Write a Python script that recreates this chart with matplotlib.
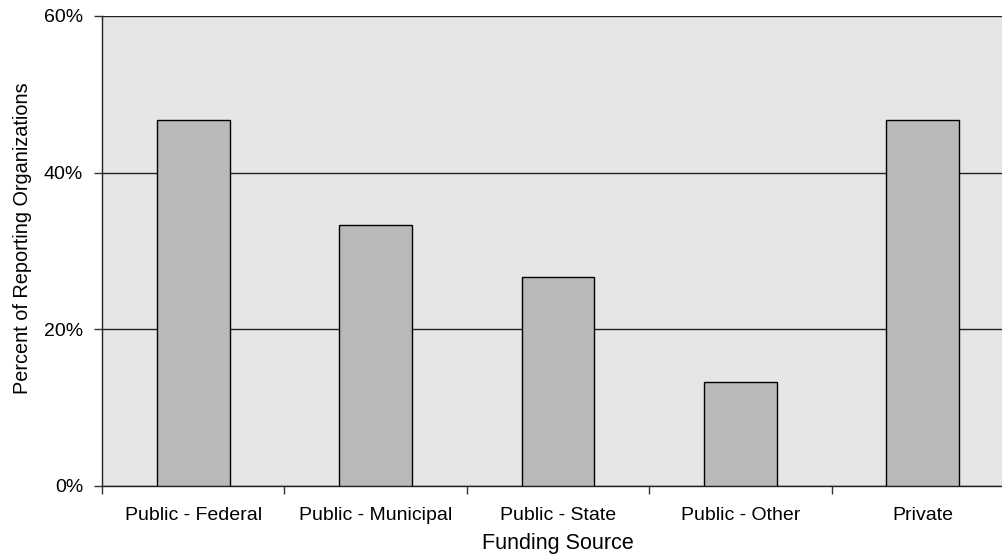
import matplotlib
matplotlib.use("Agg")
import matplotlib.pyplot as plt
from matplotlib.ticker import FuncFormatter, FixedLocator

plt.rcParams['font.family'] = ['Liberation Sans', 'DejaVu Sans']

# Datos
categorias = ['Public - Federal', 'Public - Municipal', 'Public - State', 'Public - Other', 'Private']
porcentajes = [46.67, 33.33, 26.67, 13.33, 46.67]

fig = plt.figure(figsize=(10.02, 5.6), dpi=100)
# el area de trazado continua un poco mas alla del borde derecho
ax = fig.add_axes([102 / 1002, 74 / 560, 912 / 1002, 470 / 560])
ax.set_facecolor('#e6e6e6')

x = list(range(len(categorias)))
ax.bar(x, porcentajes, width=0.4, color='#b9b9b9', edgecolor='black', linewidth=1.0, zorder=3)

ax.set_xlim(-0.5, len(categorias) - 0.5)
ax.set_ylim(0, 60)
ax.set_yticks([0, 20, 40, 60])
ax.yaxis.set_major_formatter(FuncFormatter(lambda v, p: f'{v:.0f}%'))
ax.grid(axis='y', color='#222222', linewidth=1.0, zorder=1)

ax.set_xticks(x)
ax.set_xticklabels(categorias)
ax.xaxis.set_minor_locator(FixedLocator([i - 0.5 for i in range(len(categorias) + 1)]))
ax.tick_params(axis='x', which='major', length=0, pad=15, labelsize=14)
ax.tick_params(axis='x', which='minor', length=5.5, width=1.0, direction='out', color='#333333')
ax.tick_params(axis='y', length=5.5, width=1.0, direction='out', pad=8, labelsize=14, color='#333333')

for lado in ['top', 'right']:
    ax.spines[lado].set_visible(False)
for lado in ['left', 'bottom']:
    ax.spines[lado].set_color('#222222')
    ax.spines[lado].set_linewidth(1.0)

ax.set_xlabel('Funding Source', fontsize=15.5, labelpad=6.7)
ax.set_ylabel('Percent of Reporting Organizations', fontsize=14.3)
ax.yaxis.set_label_coords((32 - 102) / 912, (486 - 238) / 470)

fig.savefig('out.png', dpi=100)
